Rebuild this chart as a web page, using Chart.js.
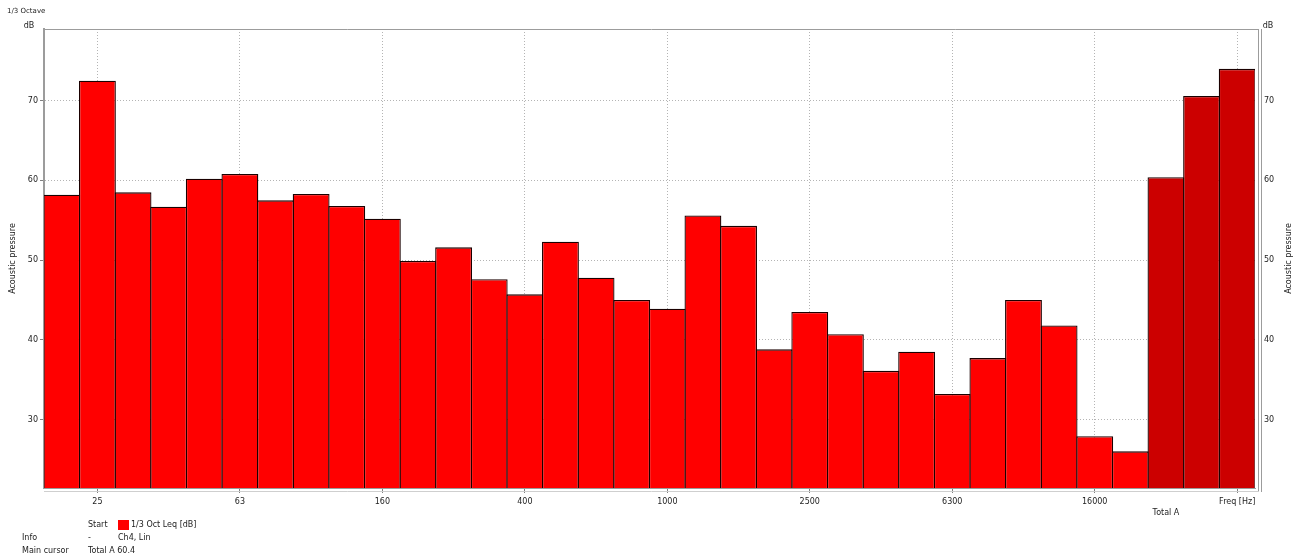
<!DOCTYPE html>
<html>
<head>
<meta charset="utf-8">
<title>1/3 Octave</title>
<script src="https://cdn.jsdelivr.net/npm/chart.js@4.4.1/dist/chart.umd.min.js"></script>
<style>
  body { margin: 0; background: #fff; font-family: 'DejaVu Sans', sans-serif; font-size: 8px; color: #222; }
  #wrap { position: relative; width: 1306px; height: 560px; }
  canvas { display: block; }
  .info { position: absolute; line-height: 10px; white-space: nowrap; }
  .swatch { position: absolute; width: 11px; height: 10px; background: #ff0000; }
</style>
</head>
<body>
<div id="wrap">
  <canvas id="octaveChart" width="1306" height="560"></canvas>
  <span class="info" style="left:88px;top:520px">Start</span>
  <span class="swatch" style="left:118px;top:520px"></span>
  <span class="info" id="seriesName" style="left:131px;top:520px"></span>
  <span class="info" style="left:22px;top:533px">Info</span>
  <span class="info" style="left:88px;top:533px">-</span>
  <span class="info" style="left:118px;top:533px">Ch4, Lin</span>
  <span class="info" style="left:22px;top:546px">Main cursor</span>
  <span class="info" id="cursorText" style="left:88px;top:546px"></span>
</div>
<script>
// 1/3 octave bands (Hz) and their Leq levels (dB)
const bandLabels = ['20', '25', '31.5', '40', '50', '63', '80', '100', '125', '160',
  '200', '250', '315', '400', '500', '630', '800', '1000', '1250', '1600',
  '2000', '2500', '3150', '4000', '5000', '6300', '8000', '10000', '12500', '16000', '20000'];
const bandLevels = [58.2, 72.5, 58.5, 56.7, 60.2, 60.8, 57.5, 58.3, 56.8, 55.2,
  49.9, 51.6, 47.6, 45.7, 52.3, 47.8, 45.0, 43.9, 55.6, 54.3,
  38.8, 43.5, 40.7, 36.1, 38.5, 33.2, 37.7, 45.0, 41.8, 27.9, 26.0];

// overall levels shown after the bands
const totalLabels = ['Total A', 'Total C', 'Total Lin'];
const totalLevels = [60.4, 70.6, 74.0];

const yTicks = [30, 40, 50, 60, 70];
const yMin = 21.4;
const yMax = 79.0;

const seriesName = '1/3 Oct Leq [dB]';
const freqTitle = 'Freq [Hz]';

const labels = bandLabels.concat(totalLabels);
const levels = bandLevels.concat(totalLevels);
const colors = bandLabels.map(() => '#ff0000').concat(totalLabels.map(() => '#cc0000'));

document.getElementById('seriesName').textContent = seriesName;
document.getElementById('cursorText').textContent = totalLabels[0] + ' ' + totalLevels[0].toFixed(1);

const FONT = "'DejaVu Sans', sans-serif";
Chart.defaults.font.family = FONT;
Chart.defaults.font.size = 8;
Chart.defaults.color = '#222';

const AXIS_GREY = '#9c9c9c';
const GRID_GREY = '#b4b4b4';

// labelled positions on the frequency axis
function isMajor(i) {
  return i % 4 === 1;
}

// frame, double rules and the small captions around the plot
const frame = {
  id: 'frame',
  afterDraw(chart) {
    const { ctx, chartArea: a } = chart;
    ctx.save();
    ctx.strokeStyle = AXIS_GREY;
    ctx.lineWidth = 1;
    ctx.beginPath();
    ctx.moveTo(a.left, a.top + 0.5);
    ctx.lineTo(a.right + 4, a.top + 0.5);
    ctx.moveTo(a.right + 3.5, a.top);
    ctx.lineTo(a.right + 3.5, a.bottom + 4);
    ctx.moveTo(a.right + 6.5, a.top);
    ctx.lineTo(a.right + 6.5, a.bottom + 4);
    ctx.stroke();
    ctx.strokeStyle = '#cfcfcf';
    ctx.beginPath();
    ctx.moveTo(a.left, a.bottom + 3.5);
    ctx.lineTo(a.right + 4, a.bottom + 3.5);
    ctx.stroke();

    ctx.fillStyle = '#222';
    ctx.font = '8px ' + FONT;
    ctx.textAlign = 'center';
    ctx.textBaseline = 'middle';
    ctx.fillText('dB', a.left - 15, a.top - 3);
    ctx.fillText('dB', a.right + 13, a.top - 3);

    ctx.save();
    ctx.translate(a.right + 34, (a.top + a.bottom) / 2);
    ctx.rotate(-Math.PI / 2);
    ctx.fillText('Acoustic pressure', 0, 0);
    ctx.restore();

    ctx.font = '7px ' + FONT;
    ctx.textAlign = 'left';
    ctx.fillText('1/3 Octave', 7, 11);
    ctx.restore();
  }
};

new Chart(document.getElementById('octaveChart'), {
  type: 'bar',
  data: {
    labels: labels,
    datasets: [{
      label: seriesName,
      data: levels,
      backgroundColor: colors,
      borderColor: '#1a0000',
      borderWidth: 1.3,
      borderSkipped: false,
      barPercentage: 1.035,
      categoryPercentage: 1
    }]
  },
  options: {
    responsive: false,
    animation: false,
    layout: { padding: { top: 29, left: 0, right: 0, bottom: 0 } },
    plugins: {
      legend: { display: false },
      tooltip: { enabled: false }
    },
    scales: {
      x: {
        afterFit: function (scale) { scale.height = 72; },
        border: { color: AXIS_GREY, width: 1, dash: [1, 2] },
        grid: {
          offset: false,
          color: ctx => isMajor(ctx.index) ? GRID_GREY : 'rgba(0,0,0,0)',
          tickColor: ctx => (isMajor(ctx.index) ? '#808080' : 'rgba(0,0,0,0)'),
          tickBorderDash: [],
          tickLength: 5
        },
        ticks: {
          autoSkip: false,
          maxRotation: 0,
          padding: 3,
          font: { size: 8, lineHeight: '11px' },
          callback: function (value, index) {
            if (index === labels.length - 1) return freqTitle;
            if (index === bandLabels.length) return ['', totalLabels[0]];
            return isMajor(index) ? this.getLabelForValue(value) : '';
          }
        }
      },
      y: {
        position: 'left',
        min: yMin,
        max: yMax,
        afterFit: function (scale) { scale.width = 44; },
        afterBuildTicks: function (scale) { scale.ticks = yTicks.map(v => ({ value: v })); },
        border: { color: AXIS_GREY, width: 2, dash: [1, 2] },
        grid: {
          color: GRID_GREY,
          tickColor: '#808080',
          tickBorderDash: [],
          tickLength: 4
        },
        ticks: { padding: 2 },
        title: {
          display: true,
          text: 'Acoustic pressure',
          padding: { top: 8, bottom: 0 },
          font: { size: 8 }
        }
      },
      y1: {
        position: 'right',
        min: yMin,
        max: yMax,
        afterFit: function (scale) { scale.width = 51; },
        afterBuildTicks: function (scale) { scale.ticks = yTicks.map(v => ({ value: v })); },
        border: { display: false },
        grid: { drawOnChartArea: false, drawTicks: false },
        ticks: { padding: 9 }
      }
    }
  },
  plugins: [frame]
});
</script>
</body>
</html>
